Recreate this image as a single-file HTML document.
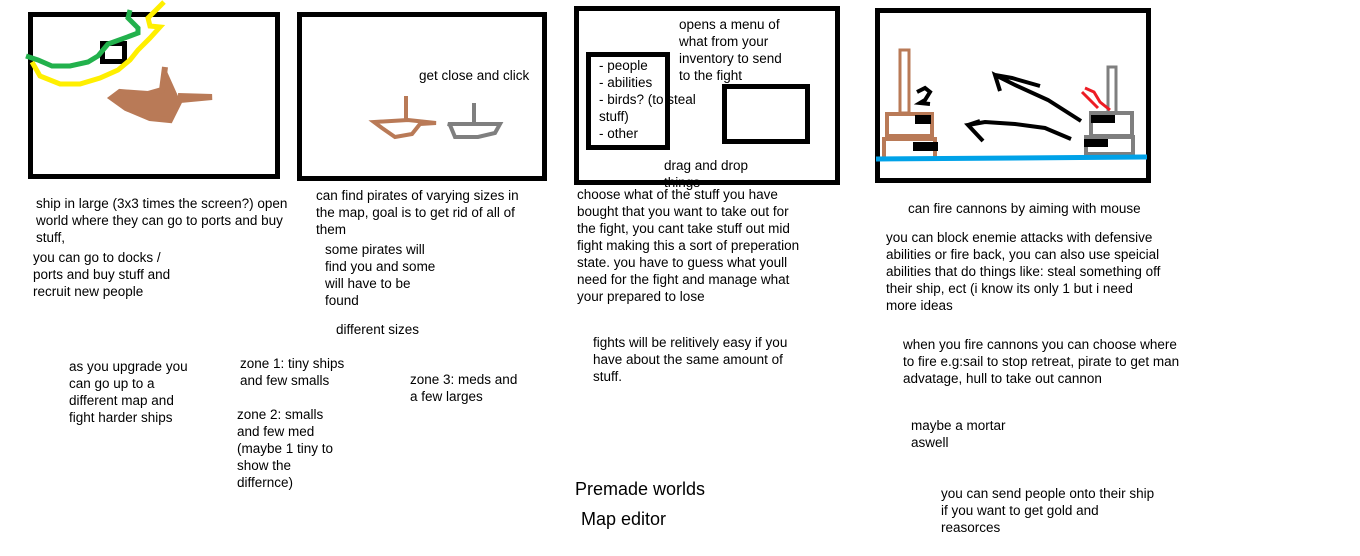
<!DOCTYPE html>
<html><head><meta charset="utf-8"><style>
body{margin:0;width:1360px;height:556px;background:#fff;position:relative;overflow:hidden;font-family:"Liberation Sans",Arial,sans-serif;font-size:13.5px;line-height:17px;color:#000}
.b{position:absolute;border:5px solid #000;box-sizing:border-box}
.t{position:absolute;white-space:nowrap}
.r{position:absolute}
</style></head><body>
<div class="b" style="left:28px;top:12px;width:252px;height:167px"></div>
<div class="b" style="left:297px;top:12px;width:250px;height:169px"></div>
<div class="b" style="left:574px;top:6px;width:266px;height:179px"></div>
<div class="b" style="left:875px;top:8px;width:276px;height:175px"></div>
<div class="b" style="left:586px;top:52px;width:84px;height:98px"></div>
<div class="b" style="left:722px;top:84px;width:88px;height:60px"></div>
<div class="b" style="left:100px;top:41px;width:27px;height:23px"></div>
<svg class="r" style="left:0;top:0" width="1360" height="556">
<path d="M164,2 L148,18 L150,26 L160,27 L150,38 L138,50 L130,60 L118,70 L100,78 L80,84 L60,84 L40,76 L32,62" fill="none" stroke="#ffef00" stroke-width="5"/>
<path d="M130,10 L128,18 L138,28 L138,33 L130,36 L108,44 L98,56 L88,62 L70,66 L52,66 L38,60 L26,56" fill="none" stroke="#22b14c" stroke-width="5"/>
<path d="M165,67 L162,90 L148,94 L120,92 L112,98 L126,108 L150,118 L170,120 L180,100 L212,97 L178,96" fill="#b97a57" stroke="#b97a57" stroke-width="6"/>
<path d="M374,122 L382,128 L395,137 L412,134 L420,124 L436,123 L408,120 Z" fill="none" stroke="#b97a57" stroke-width="4"/>
<path d="M406,96 L406,120" stroke="#b97a57" stroke-width="4"/>
<path d="M450,125 L455,137 L478,137 L495,133 L500,124 L448,124 Z" fill="none" stroke="#7f7f7f" stroke-width="4"/>
<path d="M474,103 L474,123" stroke="#7f7f7f" stroke-width="4"/>
<rect x="900" y="50" width="9" height="63" fill="none" stroke="#b97a57" stroke-width="3"/>
<rect x="887" y="114" width="45" height="22" fill="none" stroke="#b97a57" stroke-width="4"/>
<rect x="884" y="139" width="51" height="20" fill="none" stroke="#b97a57" stroke-width="4"/>
<rect x="915" y="115" width="16" height="9" fill="#000"/>
<rect x="913" y="142" width="25" height="9" fill="#000"/>
<rect x="1108" y="67" width="8" height="46" fill="none" stroke="#7f7f7f" stroke-width="3"/>
<rect x="1091" y="113" width="41" height="23" fill="none" stroke="#7f7f7f" stroke-width="4"/>
<rect x="1086" y="137" width="47" height="17" fill="none" stroke="#7f7f7f" stroke-width="4"/>
<rect x="1091" y="115" width="24" height="8" fill="#000"/>
<rect x="1084" y="139" width="24" height="8" fill="#000"/>
<path d="M1085,88 L1094,92 L1100,102 L1110,110 M1082,92 L1098,108" stroke="#ed1c24" stroke-width="3" fill="none"/>
<path d="M917,92 L925,88 L930,92 L925,100 L920,103 L930,104" stroke="#000" stroke-width="4" fill="none"/>
<path d="M1081,121 L1048,100 L1015,85 L995,75 L1000,91 M995,75 L1012,78 L1040,86" stroke="#000" stroke-width="4" fill="none"/>
<path d="M1071,139 L1045,128 L1015,124 L985,122 L968,125 L983,141 M968,125 L980,121" stroke="#000" stroke-width="4" fill="none"/>
<path d="M876,159 L1147,157" stroke="#00a2e8" stroke-width="5"/>
</svg>
<div class="t" style="left:419px;top:67px">get close and click</div>
<div class="t" style="left:679px;top:16px">opens a menu of<br>what from your<br>inventory to send<br>to the fight</div>
<div class="t" style="left:599px;top:57px">- people<br>- abilities<br>- birds? (to steal<br>stuff)<br>- other</div>
<div class="t" style="left:664px;top:157px">drag and drop<br>things</div>
<div class="t" style="left:36px;top:195px">ship in large (3x3 times the screen?) open<br>world where they can go to ports and buy<br>stuff,</div>
<div class="t" style="left:33px;top:249px">you can go to docks /<br>ports and buy stuff and<br>recruit new people</div>
<div class="t" style="left:316px;top:187px">can find pirates of varying sizes in<br>the map, goal is to get rid of all of<br>them</div>
<div class="t" style="left:325px;top:241px">some pirates will<br>find you and some<br>will have to be<br>found</div>
<div class="t" style="left:336px;top:321px">different sizes</div>
<div class="t" style="left:69px;top:358px">as you upgrade you<br>can go up to a<br>different map and<br>fight harder ships</div>
<div class="t" style="left:240px;top:355px">zone 1: tiny ships<br>and few smalls</div>
<div class="t" style="left:237px;top:406px">zone 2: smalls<br>and few med<br>(maybe 1 tiny to<br>show the<br>differnce)</div>
<div class="t" style="left:410px;top:371px">zone 3: meds and<br>a few larges</div>
<div class="t" style="left:577px;top:186px">choose what of the stuff you have<br>bought that you want to take out for<br>the fight, you cant take stuff out mid<br>fight making this a sort of preperation<br>state. you have to guess what youll<br>need for the fight and manage what<br>your prepared to lose</div>
<div class="t" style="left:593px;top:334px">fights will be relitively easy if you<br>have about the same amount of<br>stuff.</div>
<div class="t" style="left:575px;top:478px;font-size:18px;line-height:22px">Premade worlds</div>
<div class="t" style="left:581px;top:508px;font-size:18px;line-height:22px">Map editor</div>
<div class="t" style="left:908px;top:200px">can fire cannons by aiming with mouse</div>
<div class="t" style="left:886px;top:229px">you can block enemie attacks with defensive<br>abilities or fire back, you can also use speicial<br>abilities that do things like: steal something off<br>their ship, ect (i know its only 1 but i need<br>more ideas</div>
<div class="t" style="left:903px;top:336px">when you fire cannons you can choose where<br>to fire e.g:sail to stop retreat, pirate to get man<br>advatage, hull to take out cannon</div>
<div class="t" style="left:911px;top:417px">maybe a mortar<br>aswell</div>
<div class="t" style="left:941px;top:485px">you can send people onto their ship<br>if you want to get gold and<br>reasorces</div>
</body></html>
